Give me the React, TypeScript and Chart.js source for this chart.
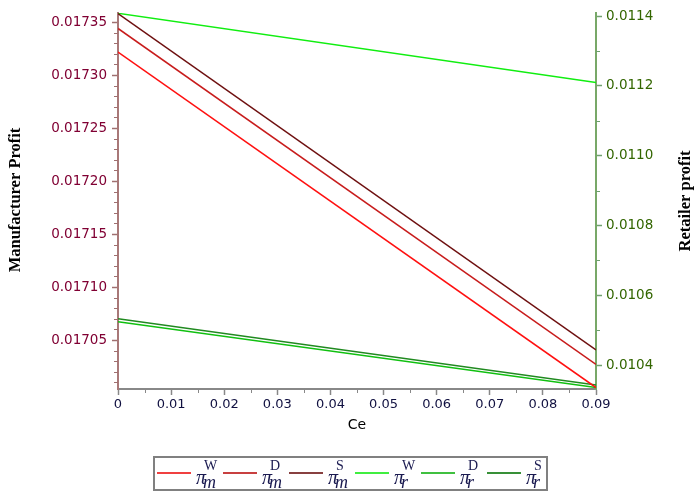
import React, { useEffect, useRef } from "react";
import { Chart, registerables } from "chart.js";

Chart.register(...registerables);

// ---- data ----
const ceValues = [0, 0.09];
const piMW = [0.0173217, 0.0170052];
const piMD = [0.017344, 0.0170271];
const piMS = [0.017358, 0.0170406];
const piRW = [0.011408, 0.0112094];
const piRD = [0.0105243, 0.0103357];
const piRS = [0.0105329, 0.0103429];

const xTickValues = [0, 0.01, 0.02, 0.03, 0.04, 0.05, 0.06, 0.07, 0.08, 0.09];
const leftTickValues = [0.01705, 0.0171, 0.01715, 0.0172, 0.01725, 0.0173, 0.01735];
const rightTickValues = [0.0104, 0.0106, 0.0108, 0.011, 0.0112, 0.0114];

const legendSup = ["W", "D", "S", "W", "D", "S"];
const legendSub = ["m", "m", "m", "r", "r", "r"];

const lineColors = ["#ff1010", "#c81c1c", "#6e1010", "#10ee10", "#10c010", "#208a20"];
const legendColors = ["#f04040", "#c84040", "#884040", "#40ee40", "#40c040", "#389038"];

const X_MIN = 0, X_MAX = 0.09;
const L_MIN = 0.0170038, L_MAX = 0.0173585;
const R_MIN = 0.0103314, R_MAX = 0.0114086;

const pts = (ys: number[]) => ceValues.map((x, i) => ({ x, y: ys[i] }));

const extrasPlugin = {
  id: "extras",
  afterDraw(chart: any) {
    const ctx = chart.ctx;
    const xs = chart.scales.x;
    const yl = chart.scales.y;
    const yr = chart.scales.y1;
    const area = chart.chartArea;
    ctx.save();
    // minor ticks x
    ctx.lineWidth = 1;
    ctx.strokeStyle = "#888888";
    for (let i = 5; i < 90; i += 10) {
      const px = Math.round(xs.getPixelForValue(i / 1000)) + 0.5;
      ctx.beginPath();
      ctx.moveTo(px, area.bottom);
      ctx.lineTo(px, area.bottom + 4);
      ctx.stroke();
    }
    // minor ticks left
    ctx.strokeStyle = "#a07070";
    for (let i = 1700; i <= 1736; i++) {
      if (i % 5 === 0) continue;
      const v = i / 100000;
      if (v < L_MIN || v > L_MAX) continue;
      const py = Math.round(yl.getPixelForValue(v)) + 0.5;
      ctx.beginPath();
      ctx.moveTo(area.left, py);
      ctx.lineTo(area.left - 4, py);
      ctx.stroke();
    }
    // minor ticks right
    ctx.strokeStyle = "#70a070";
    for (let i = 103; i <= 115; i += 2) {
      const v = i / 10000;
      if (v < R_MIN || v > R_MAX) continue;
      const py = Math.round(yr.getPixelForValue(v)) + 0.5;
      ctx.beginPath();
      ctx.moveTo(area.right, py);
      ctx.lineTo(area.right + 4, py);
      ctx.stroke();
    }
    // axis titles
    ctx.fillStyle = "#000000";
    ctx.font = "bold 16.5px 'Liberation Serif'";
    ctx.textAlign = "center";
    ctx.textBaseline = "middle";
    ctx.save();
    ctx.translate(16, 200);
    ctx.rotate(-Math.PI / 2);
    ctx.fillText("Manufacturer Profit", 0, 0);
    ctx.restore();
    ctx.save();
    ctx.translate(686, 201);
    ctx.rotate(-Math.PI / 2);
    ctx.fillText("Retailer profit", 0, 0);
    ctx.restore();

    // legend
    ctx.strokeStyle = "#808080";
    ctx.lineWidth = 2;
    ctx.strokeRect(154, 457, 393, 33);
    for (let i = 0; i < 6; i++) {
      const x0 = 157 + 66 * i;
      ctx.strokeStyle = legendColors[i];
      ctx.lineWidth = 2;
      ctx.beginPath();
      ctx.moveTo(x0, 473);
      ctx.lineTo(x0 + 34, 473);
      ctx.stroke();
      ctx.fillStyle = "#1a1a50";
      ctx.textAlign = "left";
      ctx.textBaseline = "alphabetic";
      ctx.font = "italic 20px 'Liberation Serif'";
      ctx.fillText("π", x0 + 39, 484);
      ctx.font = "14px 'Liberation Serif'";
      ctx.fillText(legendSup[i], x0 + 47, 470);
      ctx.font = "italic 18px 'Liberation Serif'";
      ctx.fillText(legendSub[i], x0 + 46, 488);
    }
    ctx.restore();
  },
};

export default function App() {
  const ref = useRef<HTMLCanvasElement | null>(null);
  useEffect(() => {
    if (!ref.current) return;
    const mk = (label: string, ys: number[], c: string, axis: string) => ({
      label,
      data: pts(ys),
      borderColor: c,
      backgroundColor: c,
      borderWidth: 1.5,
      pointRadius: 0,
      yAxisID: axis,
    });
    const chart = new Chart(ref.current, {
      type: "line",
      data: {
        datasets: [
          mk("πmW", piMW, lineColors[0], "y"),
          mk("πmD", piMD, lineColors[1], "y"),
          mk("πmS", piMS, lineColors[2], "y"),
          mk("πrW", piRW, lineColors[3], "y1"),
          mk("πrD", piRD, lineColors[4], "y1"),
          mk("πrS", piRS, lineColors[5], "y1"),
        ],
      },
      options: {
        animation: false,
        responsive: false,
        layout: { padding: { top: 12, left: 0, right: 0, bottom: 62 } },
        plugins: { legend: { display: false }, tooltip: { enabled: false } },
        scales: {
          x: {
            type: "linear",
            position: "bottom",
            min: X_MIN,
            max: X_MAX,
            afterBuildTicks: (s: any) => {
              s.ticks = xTickValues.map((v) => ({ value: v }));
            },
            afterFit: (s: any) => {
              s.height = 49;
            },
            ticks: {
              callback: (v: any) => (v === 0 ? "0" : Number(v).toFixed(2)),
              font: { family: "DejaVu Sans", size: 13 },
              color: "#101040",
              padding: 2,
              maxRotation: 0,
              autoSkip: false,
            },
            grid: { drawOnChartArea: false, drawTicks: true, tickLength: 6, tickColor: "#888888", tickWidth: 1.5 },
            border: { color: "#888888", width: 2 },
            title: {
              display: true,
              text: "Ce",
              font: { family: "DejaVu Sans", size: 14 },
              color: "#000000",
            },
          },
          y: {
            type: "linear",
            position: "left",
            min: L_MIN,
            max: L_MAX,
            afterBuildTicks: (s: any) => {
              s.ticks = leftTickValues.map((v) => ({ value: v }));
            },
            afterFit: (s: any) => {
              s.width = 118;
            },
            ticks: {
              callback: (v: any) => Number(v).toFixed(5),
              font: { family: "DejaVu Sans", size: 13.5 },
              color: "#800033",
              padding: 5,
              autoSkip: false,
            },
            grid: { drawOnChartArea: false, drawTicks: true, tickLength: 6, tickColor: "#a07070", tickWidth: 1.5 },
            border: { color: "#a87878", width: 2 },
          },
          y1: {
            type: "linear",
            position: "right",
            min: R_MIN,
            max: R_MAX,
            afterBuildTicks: (s: any) => {
              s.ticks = rightTickValues.map((v) => ({ value: v }));
            },
            afterFit: (s: any) => {
              s.width = 104;
            },
            ticks: {
              callback: (v: any) => Number(v).toFixed(4),
              font: { family: "DejaVu Sans", size: 13.5 },
              color: "#336600",
              padding: 4,
              autoSkip: false,
            },
            grid: { drawOnChartArea: false, drawTicks: true, tickLength: 6, tickColor: "#70a070", tickWidth: 1.5 },
            border: { color: "#78a868", width: 2 },
          },
        },
      },
      plugins: [extrasPlugin],
    } as any);
    return () => chart.destroy();
  }, []);
  return (
    <div style={{ position: "fixed", left: 0, top: 0, width: 700, height: 500, background: "#ffffff" }}>
      <canvas ref={ref} width={700} height={500} style={{ width: 700, height: 500, display: "block" }} />
    </div>
  );
}
